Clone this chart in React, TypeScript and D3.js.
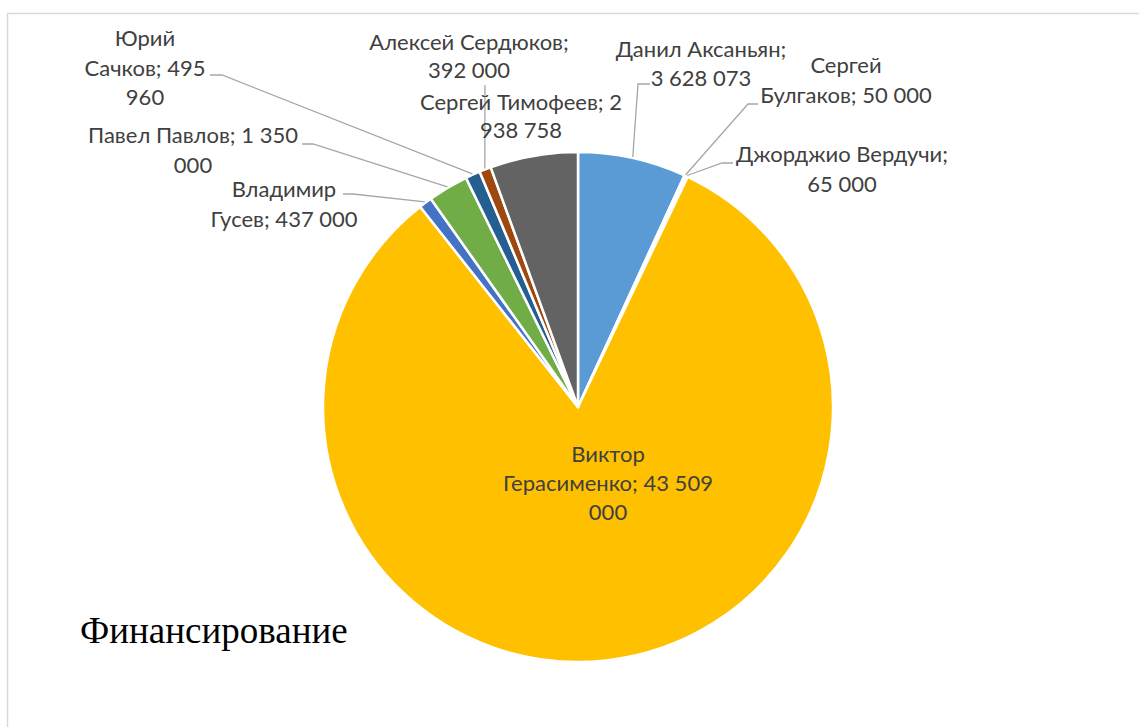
import React from "react";
import * as d3 from "d3";

// ---- data ----
const names = [
  "Данил Аксаньян",
  "Сергей Булгаков",
  "Джорджио Вердучи",
  "Виктор Герасименко",
  "Владимир Гусев",
  "Павел Павлов",
  "Юрий Сачков",
  "Алексей Сердюков",
  "Сергей Тимофеев",
];
const values = [3628073, 50000, 65000, 43509000, 437000, 1350000, 495960, 392000, 2938758];
const colors = ["#5B9BD5", "#ED7D31", "#A5A5A5", "#FFC000", "#4472C4", "#70AD47", "#255E91", "#9E480E", "#636363"];
const title = "Финансирование";

// ---- layout (label placement, words per line, leader bends) ----
type LabelLayout = {
  cx: number; y0: number; dy: number; words: number[];
  leader?: [number, number][];
};
const labelLayout: LabelLayout[] = [
  { cx: 701, y0: 57, dy: 28.5, words: [2, 3], leader: [[638, 84], [650, 84]] },
  { cx: 846, y0: 73, dy: 30, words: [1, 3], leader: [[748, 104], [758, 104]] },
  { cx: 842, y0: 162, dy: 30, words: [2, 2], leader: [[722, 163], [733, 163]] },
  { cx: 608, y0: 462, dy: 29, words: [1, 3, 1] },
  { cx: 284, y0: 197, dy: 30, words: [1, 3], leader: [[353, 194], [343, 194]] },
  { cx: 193, y0: 143, dy: 30, words: [4, 1], leader: [[313, 144], [302, 144]] },
  { cx: 145, y0: 46, dy: 29.5, words: [1, 2, 1], leader: [[222, 75], [210, 75]] },
  { cx: 469, y0: 50, dy: 28, words: [2, 2], leader: [[485, 85]] },
  { cx: 521, y0: 110, dy: 28, words: [3, 2] },
];

const W = 1139;
const H = 727;
const cx = 578;
const cy = 407;
const R = 255;

const fmt = (v: number) => d3.format(",")(v).replace(/,/g, " ");

function splitLines(text: string, counts: number[]): string[] {
  const w = text.split(" ");
  const out: string[] = [];
  let i = 0;
  for (const c of counts) {
    out.push(w.slice(i, i + c).join(" "));
    i += c;
  }
  return out;
}

export default function App() {
  const pie = d3
    .pie<number>()
    .sort(null)
    .value((d) => d)
    .startAngle(0)
    .endAngle(2 * Math.PI);
  const arcs = pie(values);
  const arc = d3.arc<d3.PieArcDatum<number>>().innerRadius(0).outerRadius(R);

  const edgePoint = (a: d3.PieArcDatum<number>, r: number): [number, number] => {
    const m = (a.startAngle + a.endAngle) / 2;
    return [cx + r * Math.sin(m), cy - r * Math.cos(m)];
  };

  return (
    <svg
      width={W}
      height={H}
      style={{ position: "absolute", left: 0, top: 0, background: "#fff" }}
    >
      <rect x={0} y={0} width={W} height={H} fill="#fff" />
      <rect x={7.5} y={13.5} width={W + 50} height={H + 50} fill="none" stroke="#D9D9D9" strokeWidth={1.5} />
      <g transform={`translate(${cx},${cy})`}>
        {arcs.map((a, i) => (
          <path key={i} d={arc(a) || ""} fill={colors[i]} stroke="#fff" strokeWidth={2.5} strokeLinejoin="round" />
        ))}
      </g>
      {arcs.map((a, i) => {
        const L = labelLayout[i];
        if (!L.leader) return null;
        const pts = [edgePoint(a, R + 1), ...L.leader];
        return (
          <path
            key={"l" + i}
            d={d3.line()(pts) || ""}
            fill="none"
            stroke="#A6A6A6"
            strokeWidth={1.3}
          />
        );
      })}
      {names.map((n, i) => {
        const L = labelLayout[i];
        const lines = splitLines(`${n}; ${fmt(values[i])}`, L.words);
        return (
          <text
            key={"t" + i}
            textAnchor="middle"
            fontFamily="Lato, 'Open Sans', sans-serif"
            fontSize={22}
            fill="#404040"
          >
            {lines.map((s, j) => (
              <tspan key={j} x={L.cx} y={L.y0 + j * L.dy}>
                {s}
              </tspan>
            ))}
          </text>
        );
      })}
      <text x={80} y={643} fontFamily="'Liberation Serif', 'Times New Roman', serif" fontSize={37} fill="#000">
        {title}
      </text>
    </svg>
  );
}
